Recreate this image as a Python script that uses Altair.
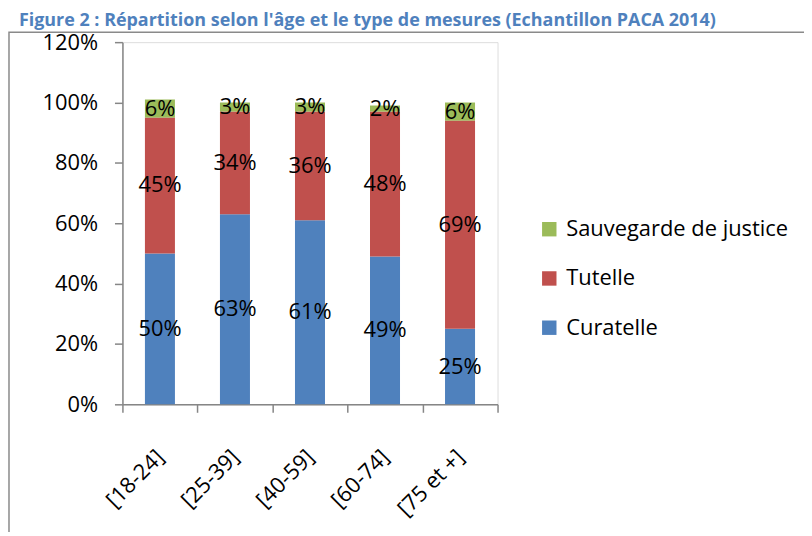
import altair as alt
import pandas as pd

ages = ["[18-24]", "[25-39]", "[40-59]", "[60-74]", "[75 et +]"]
curatelle = [50, 63, 61, 49, 25]
tutelle = [45, 34, 36, 48, 69]
sauvegarde = [6, 3, 3, 2, 6]

series_names = ["Curatelle", "Tutelle", "Sauvegarde de justice"]
series_values = [curatelle, tutelle, sauvegarde]
legend_order = ["Sauvegarde de justice", "Tutelle", "Curatelle"]
colors = ["#9BBB59", "#C0504D", "#4F81BD"]
title_text = "Figure 2 : Répartition selon l'âge et le type de mesures (Echantillon PACA 2014)"

rows = []
for k, (name, vals) in enumerate(zip(series_names, series_values)):
    for a, v in zip(ages, vals):
        rows.append({"age": a, "mesure": name, "ord": k, "pct": v})
df = pd.DataFrame(rows)

FONT = "Open Sans"
GREY = "#868686"

base = alt.Chart(df).transform_calculate(
    v="datum.pct / 100"
).transform_stack(
    stack="v", groupby=["age"], as_=["y0", "y1"],
    sort=[alt.SortField("ord", order="ascending")]
).transform_calculate(
    mid="(datum.y0 + datum.y1) / 2",
    lab="datum.pct + '%'"
)

xenc = alt.X(
    "age:N", sort=ages, title=None,
    scale=alt.Scale(paddingInner=0, paddingOuter=0),
    axis=alt.Axis(
        labelAngle=-45, labelAlign="right", labelBaseline="middle",
        labelFontSize=22, labelFont=FONT, labelColor="#000000",
        labelPadding=41, tickBand="extent", tickSize=8,
        tickColor=GREY, domainColor=GREY, domainWidth=1.5, tickWidth=1.5,
    ),
)

bars = base.mark_bar(width=alt.RelativeBandSize(0.4)).encode(
    x=xenc,
    y=alt.Y(
        "y1:Q", title=None,
        scale=alt.Scale(domain=[0, 1.2], nice=False),
        axis=alt.Axis(
            values=[0, 0.2, 0.4, 0.6, 0.8, 1.0, 1.2], format=".0%", grid=False,
            labelFontSize=22, labelFont=FONT, labelColor="#000000",
            labelPadding=17, tickSize=8, tickColor=GREY,
            domainColor=GREY, domainWidth=1.5, tickWidth=1.5,
        ),
    ),
    y2="y0:Q",
    color=alt.Color(
        "mesure:N",
        scale=alt.Scale(domain=legend_order, range=colors),
        legend=alt.Legend(
            title=None, orient="none", legendX=418, legendY=177,
            symbolType="square", symbolSize=210, symbolStrokeWidth=0,
            labelFontSize=22, labelFont=FONT, labelColor="#000000",
            labelOffset=6, rowPadding=27.5, labelLimit=0,
        ),
    ),
)

labels = base.mark_text(fontSize=22, font=FONT, color="#000000", baseline="middle", align="center").encode(
    x=alt.X("age:N", sort=ages),
    y=alt.Y("mid:Q"),
    text="lab:N",
)

frame = alt.Chart(alt.Data(values=[{"k": 1}])).mark_rect(
    fillOpacity=0, stroke="#8a8a8a", strokeWidth=1.5
).encode(
    x=alt.value(-114), x2=alt.value(900), y=alt.value(-10), y2=alt.value(700)
)

title = alt.Chart(alt.Data(values=[{"t": title_text}])).mark_text(
    align="left", baseline="alphabetic", fontSize=18, font=FONT,
    fontWeight="bold", color="#4F81BD"
).encode(
    x=alt.value(-104), y=alt.value(-16), text="t:N"
)

chart = alt.layer(frame, bars, labels, title).properties(
    width=377, height=364,
    autosize=alt.AutoSizeParams(type="none"),
    padding={"left": 115, "top": 33, "right": 308, "bottom": 127},
).configure_view(stroke=None).configure(background="white")

chart.save("out.html", embed_options={"renderer": "svg", "actions": False})
